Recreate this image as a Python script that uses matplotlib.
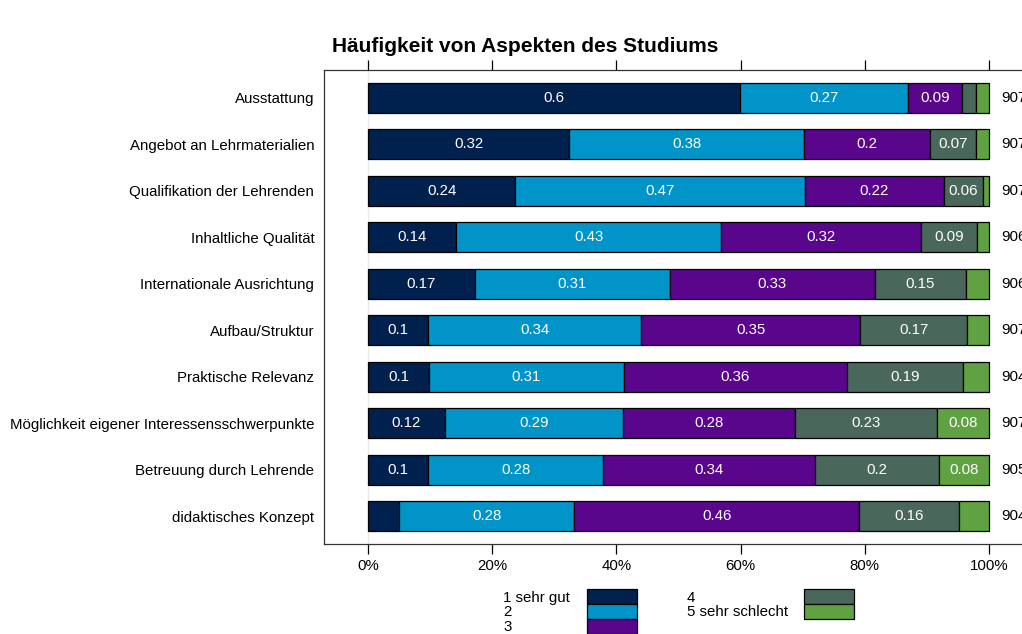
import matplotlib.pyplot as plt
from matplotlib.patches import Rectangle

plt.rcParams['font.family'] = ['Liberation Sans', 'DejaVu Sans']

aspekte = ["Ausstattung", "Angebot an Lehrmaterialien", "Qualifikation der Lehrenden",
           "Inhaltliche Qualität", "Internationale Ausrichtung", "Aufbau/Struktur",
           "Praktische Relevanz", "Möglichkeit eigener Interessensschwerpunkte",
           "Betreuung durch Lehrende", "didaktisches Konzept"]
sehr_gut = [0.599, 0.324, 0.237, 0.142, 0.172, 0.097, 0.098, 0.124, 0.097, 0.050]
stufe2 = [0.270, 0.378, 0.466, 0.427, 0.314, 0.343, 0.314, 0.287, 0.282, 0.282]
stufe3 = [0.087, 0.203, 0.224, 0.322, 0.330, 0.353, 0.359, 0.276, 0.340, 0.459]
stufe4 = [0.023, 0.074, 0.063, 0.090, 0.147, 0.171, 0.187, 0.229, 0.200, 0.161]
sehr_schlecht = [0.021, 0.021, 0.010, 0.019, 0.037, 0.036, 0.042, 0.084, 0.081, 0.048]
n_antworten = [907, 907, 907, 906, 906, 907, 904, 907, 905, 904]

stufen = ["1 sehr gut", "2", "3", "4", "5 sehr schlecht"]
farben = ["#00214e", "#0094c8", "#5a068c", "#4a675b", "#60a142"]
x_ticks = [0, 0.2, 0.4, 0.6, 0.8, 1.0]

FS = 10.8


def main():
    W, H = 1022, 634
    fig = plt.figure(figsize=(W / 100, H / 100), dpi=100)
    # axes reicht rechts ueber den Rand hinaus (wie im Original abgeschnitten)
    x0, x1 = -0.0709, 1.0709
    left_px, px_per_unit = 324, 621
    ax = fig.add_axes([left_px / W, 1 - 544 / H, (x1 - x0) * px_per_unit / W, (544 - 70) / H])

    serien = [sehr_gut, stufe2, stufe3, stufe4, sehr_schlecht]
    ys = list(range(1, len(aspekte) + 1))
    ax.axvline(0, color="#e8e8e8", lw=1, zorder=0)
    links = [0.0] * len(aspekte)
    for werte, farbe in zip(serien, farben):
        ax.barh(ys, werte, left=links, height=0.65, color=farbe,
                edgecolor="black", linewidth=0.9, zorder=2)
        for y, l, v in zip(ys, links, werte):
            if v >= 0.055:
                ax.text(l + v / 2, y, f"{round(v, 2):g}", color="white",
                        ha="center", va="center", fontsize=FS, zorder=3)
        links = [l + v for l, v in zip(links, werte)]

    for y, n in zip(ys, n_antworten):
        ax.text(1.02, y, str(n), ha="left", va="center", fontsize=FS)

    ax.set_xlim(x0, x1)
    ax.set_ylim(len(aspekte) + 0.6, 0.4)
    ax.set_yticks(ys)
    ax.set_yticklabels(aspekte, fontsize=FS)
    ax.tick_params(axis="y", length=0, pad=7)
    ax.set_xticks(x_ticks)
    ax.set_xticklabels([f"{int(t * 100)}%" for t in x_ticks], fontsize=FS)
    ax.tick_params(axis="x", top=True, direction="out", length=7, width=0.9, pad=4)
    for s in ax.spines.values():
        s.set_linewidth(0.9)
        s.set_color("#333333")

    fig.text(525 / W, 1 - 47 / H, "Häufigkeit von Aspekten des Studiums",
             ha="center", va="center", fontsize=15, fontweight="bold")

    # Legende: zwei Spalten, Text links, Farbkaestchen rechts
    # (text_x, box_x0, box_x1)
    spalten = [(503, 587, 637), (687, 804, 854)]
    for i, (name, farbe) in enumerate(zip(stufen, farben)):
        sp, zeile = (0, i) if i < 3 else (1, i - 3)
        tx, bx0, bx1 = spalten[sp]
        yc = 598 + zeile * 14.5
        fig.text(tx / W, 1 - yc / H, name, ha="left", va="center", fontsize=FS)
        fig.patches.append(Rectangle((bx0 / W, 1 - (589 + zeile * 15 + 15) / H),
                                     (bx1 - bx0) / W, 15 / H, transform=fig.transFigure,
                                     facecolor=farbe, edgecolor="black", linewidth=0.9))

    fig.savefig("out.png", dpi=100)


if __name__ == "__main__":
    main()
